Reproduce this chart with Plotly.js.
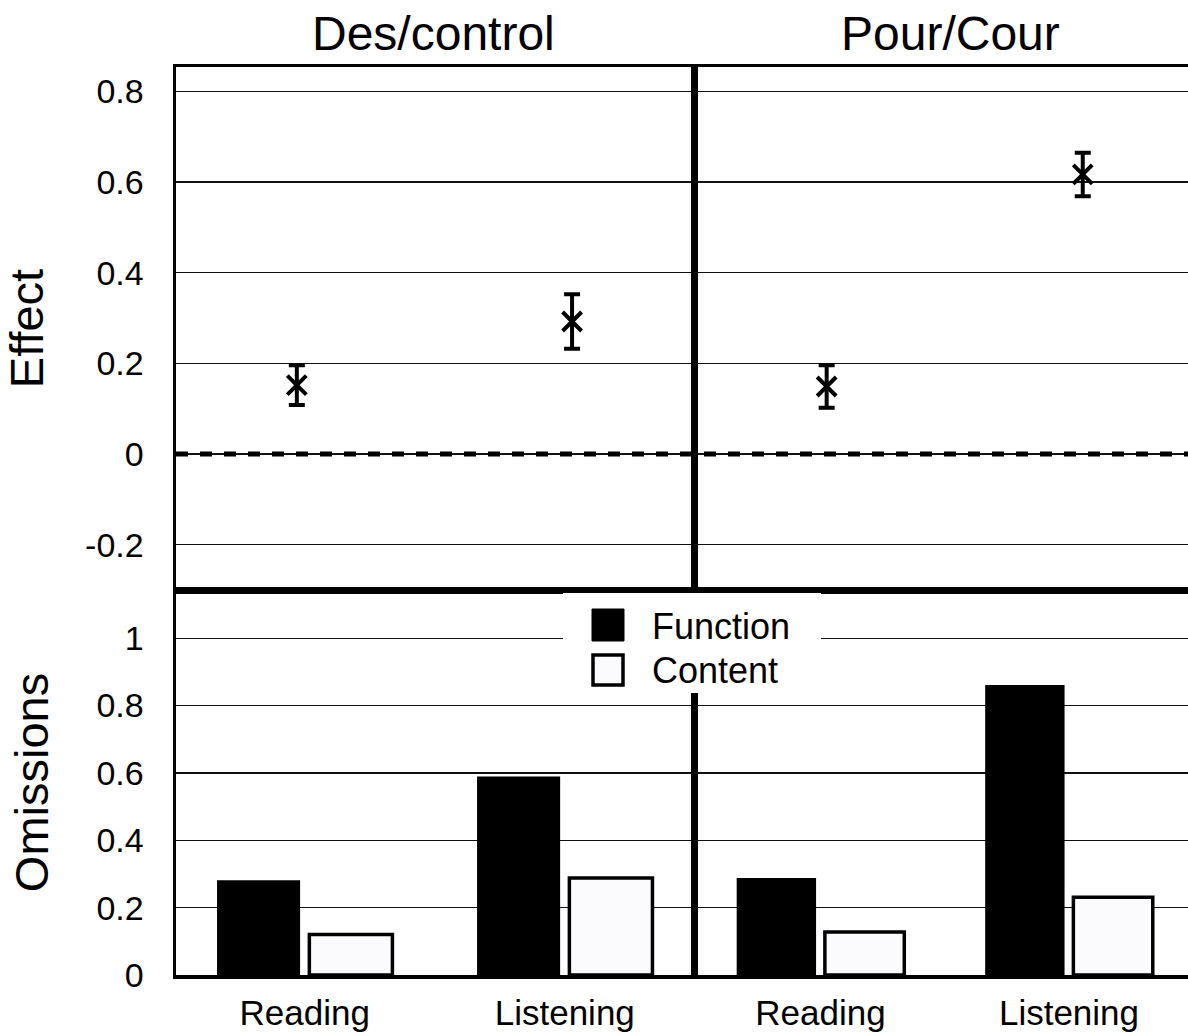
<!DOCTYPE html>
<html>
<head>
<meta charset="utf-8">
<script src="https://cdn.plot.ly/plotly-3.0.1.min.js"></script>
<style>html,body{margin:0;padding:0;background:#fff;}#chart{width:1188px;height:1036px;}</style>
</head>
<body>
<div id="chart"></div>
<script>
// ---- data ----
const categories = ['Reading', 'Listening'];
const panelTitles = ['Des/control', 'Pour/Cour'];
const seriesNames = ['Function', 'Content'];

const effectDes = [0.152, 0.2925];
const effectDesErr = [0.044, 0.060];
const effectPour = [0.149, 0.617];
const effectPourErr = [0.047, 0.048];

const functionDes = [0.281, 0.589];
const contentDes = [0.120, 0.288];
const functionPour = [0.288, 0.861];
const contentPour = [0.128, 0.231];

const effectTickVals = [-0.2, 0, 0.2, 0.4, 0.6, 0.8];
const effectTickText = ['-0.2', '0', '0.2', '0.4', '0.6', '0.8'];
const omissionTickVals = [0, 0.2, 0.4, 0.6, 0.8, 1];
const omissionTickText = ['0', '0.2', '0.4', '0.6', '0.8', '1'];

// ---- layout helpers ----
const W = 1188, H = 1036;
const L = 176, R = 1188, T = 67, B = 975;
const midX = 694, midY = 590;
const px = x => (x - L) / (R - L);
const py = y => (B - y) / (B - T);
const FONT = '"Liberation Sans", Arial, Helvetica, sans-serif';
const black = '#000000';
const contentFill = '#fbfbfe';

const xSplit = px(midX);
const ySplit = py(midY);

function effectTrace(vals, errs, xa, ya) {
  return {
    type: 'scatter', mode: 'markers', x: categories, y: vals,
    xaxis: xa, yaxis: ya, showlegend: false, cliponaxis: false,
    marker: {symbol: 'x-thin', size: 19, color: black, line: {color: black, width: 4}},
    error_y: {type: 'data', array: errs, visible: true, color: black, thickness: 4, width: 8}
  };
}
function barTrace(vals, name, fill, lw, xa, ya) {
  return {
    type: 'bar', x: categories, y: vals, name: name,
    xaxis: xa, yaxis: ya, showlegend: false,
    marker: {color: fill, line: {color: black, width: lw}}
  };
}

const data = [
  effectTrace(effectDes, effectDesErr, 'x', 'y'),
  effectTrace(effectPour, effectPourErr, 'x2', 'y2'),
  barTrace(functionDes, seriesNames[0], black, 0, 'x3', 'y3'),
  barTrace(contentDes, seriesNames[1], contentFill, 3.5, 'x3', 'y3'),
  barTrace(functionPour, seriesNames[0], black, 0, 'x4', 'y4'),
  barTrace(contentPour, seriesNames[1], contentFill, 3.5, 'x4', 'y4')
];

const tickFont = {family: FONT, size: 34, color: black};
function xAxis(domain, anchor, range, showLabels, mirror) {
  return {
    domain: domain, anchor: anchor, type: 'category', range: range,
    showgrid: false, zeroline: false, ticks: '',
    showticklabels: showLabels, tickfont: {family: FONT, size: 35, color: black},
    ticklabelstandoff: 4,
    showline: true, linecolor: black, linewidth: 3.5, mirror: mirror, fixedrange: true
  };
}
function yAxis(domain, anchor, range, vals, text, showLabels, mirror, title) {
  return {
    domain: domain, anchor: anchor, range: range,
    tickmode: 'array', tickvals: vals, ticktext: text,
    showticklabels: showLabels, tickfont: tickFont, ticks: '', ticklabelstandoff: 22,
    showgrid: true, gridcolor: '#111111', gridwidth: 1.3, zeroline: false,
    showline: true, linecolor: black, linewidth: 3.5, mirror: mirror, fixedrange: true,
    title: title ? {text: title, font: {family: FONT, size: 47, color: black}, standoff: 34} : undefined
  };
}

const effRange = [-0.3, 0.854];
const omRange = [0, 1.143];

const legX0 = 563, legX1 = 821, legY0 = 593, legY1 = 693;
const shapes = [
  {type: 'line', xref: 'paper', yref: 'y', x0: 0, x1: 1, y0: 0, y1: 0,
   line: {color: black, width: 5, dash: '12px,12px'}, layer: 'above'},
  {type: 'rect', xref: 'paper', yref: 'paper', x0: px(legX0), x1: px(legX1), y0: py(legY1), y1: py(legY0),
   fillcolor: '#ffffff', line: {width: 0}, layer: 'above'},
  {type: 'rect', xref: 'paper', yref: 'paper', x0: px(592), x1: px(624), y0: py(641), y1: py(609),
   fillcolor: black, line: {color: black, width: 1}, layer: 'above'},
  {type: 'rect', xref: 'paper', yref: 'paper', x0: px(593), x1: px(623), y0: py(685), y1: py(655),
   fillcolor: contentFill, line: {color: black, width: 3.5}, layer: 'above'}
];

const annotations = [
  {text: panelTitles[0], xref: 'paper', yref: 'paper', x: px(433), y: py(33),
   showarrow: false, xanchor: 'center', yanchor: 'middle', font: {family: FONT, size: 48, color: black}},
  {text: panelTitles[1], xref: 'paper', yref: 'paper', x: px(950), y: py(33),
   showarrow: false, xanchor: 'center', yanchor: 'middle', font: {family: FONT, size: 48, color: black}},
  {text: seriesNames[0], xref: 'paper', yref: 'paper', x: px(650), y: py(626),
   showarrow: false, xanchor: 'left', yanchor: 'middle', font: {family: FONT, size: 36, color: black}},
  {text: seriesNames[1], xref: 'paper', yref: 'paper', x: px(650), y: py(670),
   showarrow: false, xanchor: 'left', yanchor: 'middle', font: {family: FONT, size: 36, color: black}}
];

const layout = {
  width: W, height: H,
  margin: {l: L, r: W - R, t: T, b: H - B, pad: 0},
  paper_bgcolor: '#ffffff', plot_bgcolor: '#ffffff',
  showlegend: false,
  barmode: 'group', bargap: 0.29, bargroupgap: 0.1,
  font: {family: FONT, color: black},
  xaxis: xAxis([0, xSplit], 'y', [-0.439, 1.443], false, true),
  yaxis: yAxis([ySplit, 1], 'x', effRange, effectTickVals, effectTickText, true, true, 'Effect'),
  xaxis2: xAxis([xSplit, 1], 'y2', [-0.518, 1.411], false, true),
  yaxis2: yAxis([ySplit, 1], 'x2', effRange, effectTickVals, effectTickText, false, false, null),
  xaxis3: xAxis([0, xSplit], 'y3', [-0.495, 1.497], true, true),
  yaxis3: yAxis([0, ySplit], 'x3', omRange, omissionTickVals, omissionTickText, true, true, 'Omissions'),
  xaxis4: xAxis([xSplit, 1], 'y4', [-0.509, 1.479], true, true),
  yaxis4: yAxis([0, ySplit], 'x4', omRange, omissionTickVals, omissionTickText, false, false, null),
  shapes: shapes,
  annotations: annotations
};

Plotly.newPlot('chart', data, layout, {staticPlot: true, displayModeBar: false});
</script>
</body>
</html>
